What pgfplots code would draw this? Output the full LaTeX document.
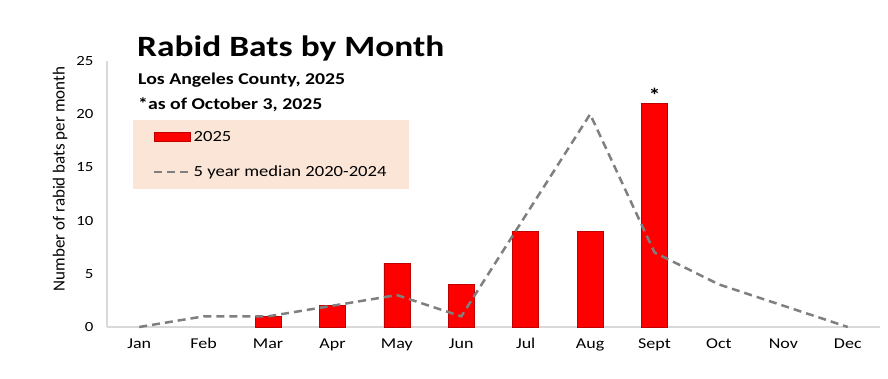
\documentclass[border=0pt]{standalone}
\usepackage{fontspec}
\setmainfont{Carlito}[FakeStretch=1.2]
\newfontfamily\plainfont{Carlito}
\usepackage{pgfplots}
\pgfplotsset{compat=1.18}
\definecolor{barred}{HTML}{FF0000}
\definecolor{baredge}{HTML}{C00000}
\definecolor{medgray}{HTML}{7F7F7F}
\definecolor{axgray}{HTML}{D9D9D9}
\definecolor{legbg}{HTML}{FBE5D6}
\begin{document}
\begin{tikzpicture}
\useasboundingbox (0,0) rectangle (888pt,378pt);
\begin{axis}[
  at={(107pt,51pt)}, anchor=south west,
  scale only axis, width=773pt, height=266pt,
  xmin=-0.5, xmax=11.5, ymin=0, ymax=25,
  xtick={0,...,11},
  xticklabels={Jan,Feb,Mar,Apr,May,Jun,Jul,Aug,Sept,Oct,Nov,Dec},
  ytick={0,5,10,15,20,25},
  /pgf/number format/assume math mode=true,
  axis x line=bottom, axis y line=left,
  axis line style={-, draw=axgray, line width=1.2pt},
  major tick length=0pt,
  xticklabel style={font=\fontsize{15}{17}\selectfont, yshift=-8pt},
  yticklabel style={font=\fontsize{14}{16}\selectfont, xshift=-10pt},
  ylabel={Number of rabid bats per month},
  every axis y label/.style={at={(axis description cs:-0.0608,0.556)}, rotate=90, anchor=center, font=\plainfont\fontsize{17}{19}\selectfont},
  legend style={at={(0.0336,0.778)}, anchor=north west, fill=legbg, draw=none,
    inner xsep=20pt, inner ysep=9pt, row sep=19pt,
    font=\fontsize{15.5}{18}\selectfont, cells={anchor=west}},
  legend cell align=left,
  clip=false,
]
\addplot[ybar, bar width=26pt, fill=barred, draw=baredge, line width=0.6pt,
  legend image code/.code={\draw[fill=barred, draw=baredge, line width=0.6pt] (0pt,-4.5pt) rectangle (36pt,4.5pt);}]
  coordinates {(2,1) (3,2) (4,6) (5,4) (6,9) (7,9) (8,21)};
\addlegendentry{2025}
\addplot[medgray, line width=2.5pt, dash pattern=on 8pt off 5pt,
  legend image code/.code={\draw[medgray, line width=2.5pt, dash pattern=on 8pt off 5pt] (0pt,0pt) -- (36pt,0pt);}]
  coordinates {(0,0) (1,1) (2,1) (3,2) (4,3) (5,1) (6,10.5) (7,20) (8,7) (9,4) (10,2) (11,0)};
\addlegendentry{5 year median 2020-2024}
\node[anchor=south, font=\fontsize{20}{20}\selectfont\bfseries, inner sep=1pt] at (axis cs:8,21) {*};
\end{axis}
\node[anchor=base west, inner sep=0pt, font=\fontsize{29.5}{32}\selectfont\bfseries] at (137pt,321pt) {Rabid Bats by Month};
\node[anchor=base west, inner sep=0pt, font=\fontsize{16.5}{18}\selectfont\bfseries] at (138pt,293pt) {Los Angeles County, 2025};
\node[anchor=base west, inner sep=0pt, font=\fontsize{16.5}{18}\selectfont\bfseries] at (138pt,268pt) {*as of October 3, 2025};
\end{tikzpicture}
\end{document}
